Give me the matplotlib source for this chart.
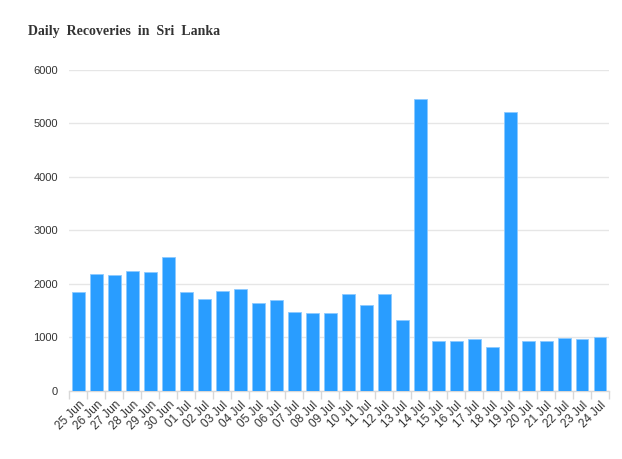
import matplotlib
matplotlib.use("Agg")
import matplotlib.pyplot as plt
from matplotlib.ticker import FixedLocator, NullFormatter

dates = ["25 Jun", "26 Jun", "27 Jun", "28 Jun", "29 Jun", "30 Jun",
         "01 Jul", "02 Jul", "03 Jul", "04 Jul", "05 Jul", "06 Jul",
         "07 Jul", "08 Jul", "09 Jul", "10 Jul", "11 Jul", "12 Jul",
         "13 Jul", "14 Jul", "15 Jul", "16 Jul", "17 Jul", "18 Jul",
         "19 Jul", "20 Jul", "21 Jul", "22 Jul", "23 Jul", "24 Jul"]
recoveries = [1840, 2175, 2165, 2245, 2220, 2510,
              1845, 1707, 1857, 1908, 1640, 1700,
              1477, 1452, 1450, 1812, 1600, 1806,
              1319, 5450, 925, 925, 969, 825,
              5210, 937, 925, 981, 969, 1000]
yticks = [0, 1000, 2000, 3000, 4000, 5000, 6000]

plt.rcParams["font.family"] = ["Liberation Sans", "DejaVu Sans"]

W, H = 622, 459
fig = plt.figure(figsize=(W / 100, H / 100), dpi=100)
left, right, top, bottom = 69.3, 609, 70, 390.7
ax = fig.add_axes([left / W, 1 - bottom / H, (right - left) / W, (bottom - top) / H])

x = list(range(len(dates)))
ax.bar(x, recoveries, width=0.72, color="#299dff", edgecolor="#8ccaff",
       linewidth=0.6, zorder=3)

ax.set_xlim(-0.5, len(dates) - 0.5)
ax.set_ylim(0, 6000)
ax.set_yticks(yticks)
ax.set_yticklabels([str(v) for v in yticks])
ax.yaxis.grid(True, color="#e6e6e6", linewidth=1, zorder=0)
ax.tick_params(axis="y", length=0, pad=8, labelsize=8, labelcolor="#333333")

# category boundary ticks
ax.xaxis.set_major_locator(FixedLocator([i - 0.5 for i in range(len(dates) + 1)]))
ax.xaxis.set_major_formatter(NullFormatter())
ax.tick_params(axis="x", which="major", length=6, color="#d8d8d8", width=1)
ax.xaxis.set_minor_locator(FixedLocator(x))
ax.set_xticklabels(dates, minor=True, rotation=45, ha="right",
                   rotation_mode="anchor", fontsize=8.5, color="#333333")
ax.tick_params(axis="x", which="minor", length=0, pad=6)

for s in ["top", "right", "left"]:
    ax.spines[s].set_visible(False)
ax.spines["bottom"].set_color("#d8d8d8")
ax.spines["bottom"].set_linewidth(1)

fig.text(28 / W, 1 - 31 / H, "Daily  Recoveries  in  Sri  Lanka",
         fontsize=10, fontweight="bold", family="Liberation Serif",
         color="#333333", va="center", ha="left")

fig.savefig("out.png", dpi=100)
